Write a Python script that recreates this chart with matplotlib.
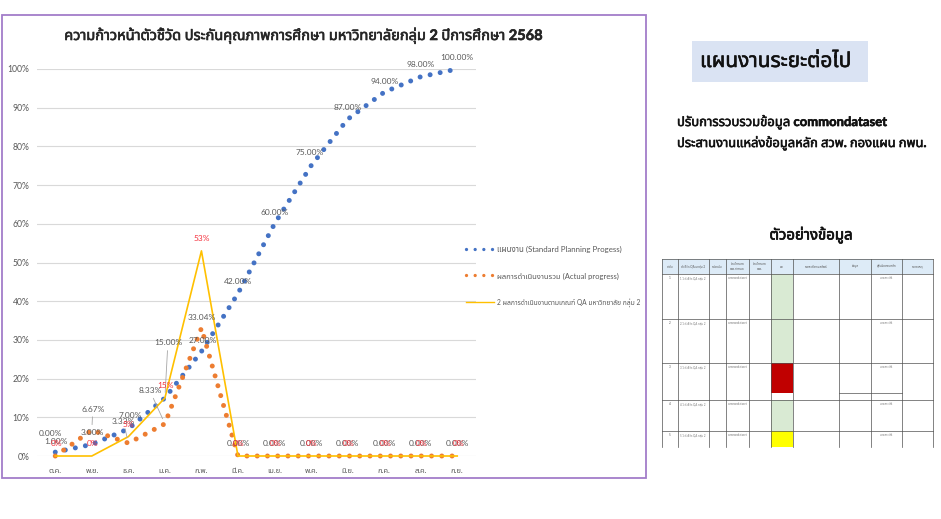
import numpy as np
import matplotlib
matplotlib.use('Agg')
import matplotlib.pyplot as plt
from matplotlib import font_manager as fm
from matplotlib import patheffects as pe
from matplotlib.lines import Line2D
from matplotlib.patches import Rectangle

# ---------------- data ----------------
months = ['ต.ค.', 'พ.ย.', 'ธ.ค.', 'ม.ค.', 'ก.พ.', 'มี.ค.', 'เม.ย.', 'พ.ค.',
          'มิ.ย.', 'ก.ค.', 'ส.ค.', 'ก.ย.']
plan = [1.00, 3.00, 7.00, 15.00, 27.00, 42.00, 60.00, 75.00, 87.00, 94.00, 98.00, 100.00]
actual = [0.00, 6.67, 3.33, 8.33, 33.04, 0.00, 0.00, 0.00, 0.00, 0.00, 0.00, 0.00]
qa = [0, 0, 5, 15, 53, 0, 0, 0, 0, 0, 0, 0]
yticks = [0, 10, 20, 30, 40, 50, 60, 70, 80, 90, 100]

title = 'ความก้าวหน้าตัวชี้วัด ประกันคุณภาพการศึกษา มหาวิทยาลัยกลุ่ม 2 ปีการศึกษา 2568'
legend_labels = ['แผนงาน (Standard Planning Progess)',
                 'ผลการดำเนินงานรวม (Actual progress)',
                 '2 ผลการดำเนินงานตามเกณฑ์ QA มหาวิทยาลัย กลุ่ม 2']

plan_box = 'แผนงานระยะต่อไป'
plan_lines = ['ปรับการรวบรวมข้อมูล commondataset',
              'ประสานงานแหล่งข้อมูลหลัก สวพ. กองแผน กพน.']
sample_title = 'ตัวอย่างข้อมูล'

tbl_headers = ['ลำดับ', 'ตัวชี้วัด QA มกลุ่ม 2', 'หน่วยนับ', 'ค่าเป้าหมาย\nสกอ.กำหนด',
               'ค่าเป้าหมาย\nสกอ.', 'ผล', 'รายละเอียดผลลัพธ์', 'ข้อมูล',
               'ผู้รับผิดชอบหลัก', 'หมายเหตุ']
tbl_rows = ['1', '2', '3', '4', '5']
tbl_result_colors = ['#D9EAD3', '#D9EAD3', '#C00000', '#D9EAD3', '#FFFF00']

# ---------------- fonts ----------------
def find_thai():
    prefs = ['Noto Sans Thai', 'Noto Sans Thai UI', 'Noto Sans Thai Looped', 'Sarabun',
             'Loma', 'Garuda', 'Waree', 'Umpush', 'Kinnari', 'Norasi', 'Tlwg Typo',
             'Noto Serif Thai']
    names = {f.name for f in fm.fontManager.ttflist}
    for p in prefs:
        if p in names:
            return p
    try:
        from fontTools.ttLib import TTFont
        for f in fm.fontManager.ttflist:
            try:
                tt = TTFont(f.fname, fontNumber=0, lazy=True)
                cmap = tt.getBestCmap()
                if cmap and 0x0E01 in cmap:
                    return f.name
            except Exception:
                pass
    except Exception:
        pass
    return None

thai = find_thai()
fams = ['Lato'] + ([thai] if thai else []) + ['DejaVu Sans']
plt.rcParams['font.family'] = fams

W, H = 941, 519
fig = plt.figure(figsize=(W / 100, H / 100), dpi=100)

def fx(x):
    return x / W

def fy(y):
    return 1 - y / H

def bold(color, w=0.5):
    return [pe.withStroke(linewidth=w, foreground=color)]

# chart frame
fig.patches.append(Rectangle((fx(1.5), fy(478)), fx(646) - fx(1.5), fy(15) - fy(478),
                             transform=fig.transFigure, fill=False,
                             edgecolor='#A37DC9', lw=1.3, zorder=0))

# ---------------- main chart ----------------
ax = fig.add_axes([fx(37), fy(456), (475.5 - 37) / W, (456 - 69) / H])
x = np.arange(len(months))
BLUE, ORANGE, YELLOW = '#4472C4', '#ED7D31', '#FFC000'
GRAY = '#595959'

dot = (0, (0.001, 2.05))
ax.plot(x, plan, color=BLUE, lw=3.6, ls=dot, dash_capstyle='round', clip_on=False, zorder=3)
ax.plot(x, actual, color=ORANGE, lw=3.6, ls=dot, dash_capstyle='round', clip_on=False, zorder=3)
ax.plot(x, qa, color=YELLOW, lw=1.2, clip_on=False, zorder=4)

ax.set_xlim(-0.5, len(months) - 0.5)
ax.set_ylim(0, 100)
ax.set_yticks(yticks)
ax.set_yticklabels([f'{t}%' for t in yticks])
ax.set_xticks(x)
ax.set_xticklabels(months)
ax.tick_params(axis='y', length=0, pad=5.5, labelsize=6.2, labelcolor=GRAY)
ax.tick_params(axis='x', length=0, pad=8, labelsize=5.5, labelcolor=GRAY)
ax.grid(axis='y', color='#D9D9D9', lw=0.8)
ax.set_axisbelow(True)
for s in ax.spines.values():
    s.set_visible(False)

lab_kw = dict(textcoords='offset pixels', ha='center', va='center', fontsize=6, color=GRAY,
              zorder=6, annotation_clip=False)
lead = dict(arrowstyle='-', color='#A6A6A6', lw=0.6, shrinkA=1, shrinkB=4)

plan_off = [(1, 11), (1, 12), (2, 13), (3, 55), (1, 11.5), (0, 11.5), (0, 11),
            (-1, 13), (0, 12), (0, 11), (0, 12.7), (0, 12)]
plan_lead = [False, False, False, True] + [False] * 8
for i, v in enumerate(plan):
    ax.annotate(f'{v:.2f}%', (x[i], v), xytext=plan_off[i],
                arrowprops=lead if plan_lead[i] else None, **lab_kw)

act_off = [(-5, 23), (1, 21), (-5, 22), (-15, 33), (0, 11)] + [(0, 13)] * 7
act_lead = [False, True, True, True] + [False] * 8
for i, v in enumerate(actual):
    ax.annotate(f'{v:.2f}%', (x[i], v), xytext=act_off[i],
                arrowprops=lead if act_lead[i] else None, **lab_kw)

qa_off = [(1, 12), (1, 13), (0, 12), (1, 12), (0, 12)] + [(1, 13)] * 7
red_kw = dict(lab_kw)
red_kw['color'] = '#F5333F'
for i, v in enumerate(qa):
    ax.annotate(f'{v:.0f}%', (x[i], v), xytext=qa_off[i], **red_kw)

# legend
handles = [Line2D([], [], color=BLUE, lw=2.4, ls=(0, (0.001, 2.6)), dash_capstyle='round'),
           Line2D([], [], color=ORANGE, lw=2.4, ls=(0, (0.001, 2.6)), dash_capstyle='round'),
           Line2D([], [], color=YELLOW, lw=1.0)]
leg = fig.legend(handles, legend_labels, loc='upper left',
                 bbox_to_anchor=(fx(466), fy(246)), frameon=False, fontsize=6.0,
                 handlelength=3.3, handletextpad=0.45, labelspacing=2.3, borderpad=0,
                 borderaxespad=0, labelcolor=GRAY)
for t, fs in zip(leg.get_texts(), [5.7, 5.5, 4.8]):
    t.set_fontsize(fs)

# title
fig.text(fx(303), fy(36), title, ha='center', va='center', fontsize=10.5,
         fontweight='bold', color='#262626', path_effects=bold('#262626', 0.45))

# ---------------- right side ----------------
fig.patches.append(Rectangle((fx(692), fy(82)), fx(868) - fx(692), fy(41) - fy(82),
                             transform=fig.transFigure, facecolor='#DAE3F3',
                             edgecolor='none', zorder=0))
fig.text(fx(700), fy(61), plan_box, ha='left', va='center', fontsize=15, color='#111111',
         path_effects=bold('#111111', 0.4))
fig.text(fx(677), fy(122), plan_lines[0], ha='left', va='center', fontsize=9.4,
         fontweight='bold', color='#111111', path_effects=bold('#111111', 0.4))
fig.text(fx(677), fy(143), plan_lines[1], ha='left', va='center', fontsize=9.3,
         fontweight='bold', color='#111111', path_effects=bold('#111111', 0.4))
fig.text(fx(811), fy(235), sample_title, ha='center', va='center', fontsize=10.8,
         fontweight='bold', color='#111111', path_effects=bold('#111111', 0.5))

# table picture
col_edges = [662, 678, 709, 726, 749, 771, 793, 839, 871, 902, 933]
row_edges = [259, 274, 319, 363, 400, 431, 447]
tx = fig.add_axes([fx(660), fy(449), (935 - 660) / W, (449 - 257) / H])
tx.set_xlim(660, 935)
tx.set_ylim(449, 257)
tx.axis('off')
tx.add_patch(Rectangle((col_edges[0], row_edges[0]), col_edges[-1] - col_edges[0],
                       row_edges[1] - row_edges[0], facecolor='#DDEBF7', edgecolor='none'))
for r, c in enumerate(tbl_result_colors):
    top = row_edges[r + 1]
    bot = row_edges[r + 2]
    if c == '#C00000':
        bot = top + 30
    tx.add_patch(Rectangle((col_edges[5], top), col_edges[6] - col_edges[5], bot - top,
                           facecolor=c, edgecolor='none'))
for xe in col_edges:
    tx.plot([xe, xe], [row_edges[0], row_edges[-1]], color='#505050', lw=0.5)
for ye in row_edges[:-1]:
    tx.plot([col_edges[0], col_edges[-1]], [ye, ye], color='#505050', lw=0.5)
tx.plot([col_edges[7], col_edges[9]], [row_edges[3] + 30, row_edges[3] + 30],
        color='#505050', lw=0.5)
for j, h in enumerate(tbl_headers):
    tx.text((col_edges[j] + col_edges[j + 1]) / 2, (row_edges[0] + row_edges[1]) / 2, h,
            ha='center', va='center', fontsize=2.2, color='#555555')
for r, lab in enumerate(tbl_rows):
    top = row_edges[r + 1]
    tx.text((col_edges[0] + col_edges[1]) / 2, top + 4, lab, ha='center', va='center',
            fontsize=2.2, color='#555555')
    tx.text((col_edges[3] + col_edges[4]) / 2, top + 4, 'commondataset', ha='center',
            va='center', fontsize=2.0, color='#777777')
    tx.text(col_edges[1] + 2, top + 4, f'{r + 1}.1 ตัวชี้วัด QA กลุ่ม 2', ha='left',
            va='center', fontsize=2.0, color='#777777')
    tx.text((col_edges[8] + col_edges[9]) / 2, top + 4, 'นางสาว สิริ', ha='center',
            va='center', fontsize=2.0, color='#777777')

fig.savefig('out.png', dpi=100)
